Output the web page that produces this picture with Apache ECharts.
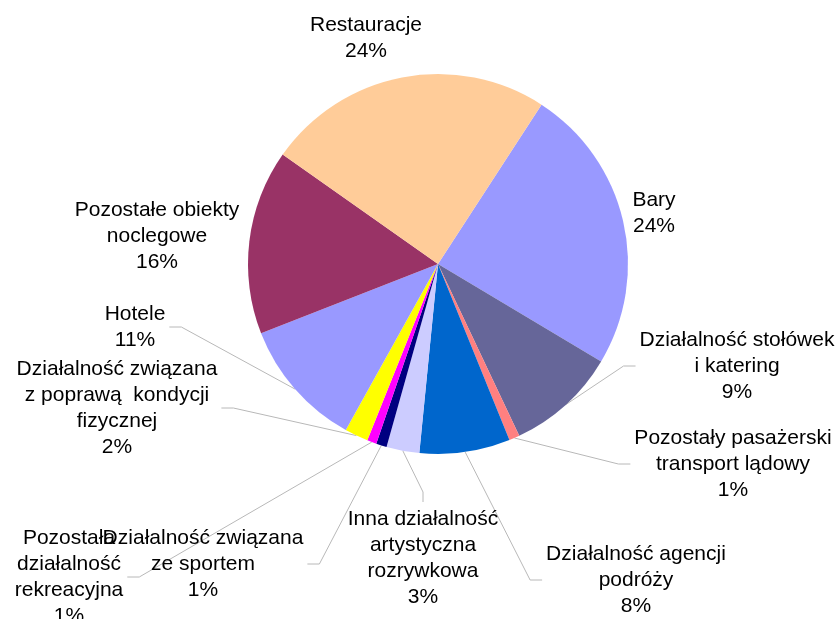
<!DOCTYPE html>
<html>
<head>
<meta charset="utf-8">
<script src="https://cdn.jsdelivr.net/npm/echarts@6/dist/echarts.min.js"></script>
<style>
html,body{margin:0;padding:0;background:#fff;}
#chart{width:838px;height:619px;}
</style>
</head>
<body>
<div id="chart"></div>
<script>
// slices in clockwise order, starting from "Bary"
var categories = [
    'Bary',
    'Działalność stołówek\ni katering',
    'Pozostały pasażerski\ntransport lądowy',
    'Działalność agencji\npodróży',
    'Inna działalność\nartystyczna\nrozrywkowa',
    'Działalność związana\nze sportem',
    'Pozostała\ndziałalność\nrekreacyjna',
    'Działalność związana\nz poprawą  kondycji\nfizycznej',
    'Hotele',
    'Pozostałe obiekty\nnoclegowe',
    'Restauracje'
];
var values = [24.4, 9.4, 0.9, 7.7, 2.8, 0.9, 0.8, 2.0, 11.0, 15.7, 24.4];
var colors = ['#9999ff', '#666699', '#ff8080', '#0066cc', '#ccccff', '#000080',
              '#ff00ff', '#ffff00', '#9999ff', '#993366', '#ffcc99'];
// where each label block is centred
var labelSpots = [
    [654, 213], [737, 366], [733, 464], [636, 580], [423, 558], [203, 564],
    [69, 577], [117, 408], [135, 327], [157, 236], [366, 38]
];

var chart = echarts.init(document.getElementById('chart'));

function leader(p) {
    var s = labelSpots[p.dataIndex],
        w = p.labelRect.width,
        h = p.labelRect.height,
        left = s[0] - w / 2, right = s[0] + w / 2,
        top = s[1] - h / 2, bottom = s[1] + h / 2,
        a = p.labelLinePoints ? p.labelLinePoints[0] : null;
    if (!a) return null;
    var dx = Math.max(left - a[0], 0, a[0] - right),
        dy = Math.max(top - a[1], 0, a[1] - bottom);
    if (Math.sqrt(dx * dx + dy * dy) < 25) return [a, a, a];
    if (a[0] > left && a[0] < right) return [a, [s[0], top - 14], [s[0], top - 4]];
    if (a[0] <= left) return [a, [left - 16, s[1]], [left - 4, s[1]]];
    return [a, [right + 16, s[1]], [right + 4, s[1]]];
}

chart.setOption({
    animation: false,
    series: [{
        type: 'pie',
        center: [438, 264],
        radius: 190,
        startAngle: 57,
        clockwise: true,
        avoidLabelOverlap: false,
        silent: true,
        data: categories.map(function (c, i) {
            return {name: c, value: values[i], itemStyle: {color: colors[i]}};
        }),
        label: {
            show: true,
            position: 'outside',
            color: '#000',
            fontFamily: '"Liberation Sans", Arial, sans-serif',
            fontSize: 21,
            lineHeight: 26,
            align: 'center',
            formatter: function (p) {
                return p.name + '\n' + Math.round(p.percent) + '%';
            }
        },
        labelLine: {
            show: true,
            length: 10,
            length2: 10,
            smooth: false,
            lineStyle: {color: '#b8b8b8', width: 1}
        },
        labelLayout: function (p) {
            var s = labelSpots[p.dataIndex];
            return {
                x: s[0],
                y: s[1],
                align: 'center',
                verticalAlign: 'middle',
                labelLinePoints: leader(p)
            };
        }
    }]
});
</script>
</body>
</html>
